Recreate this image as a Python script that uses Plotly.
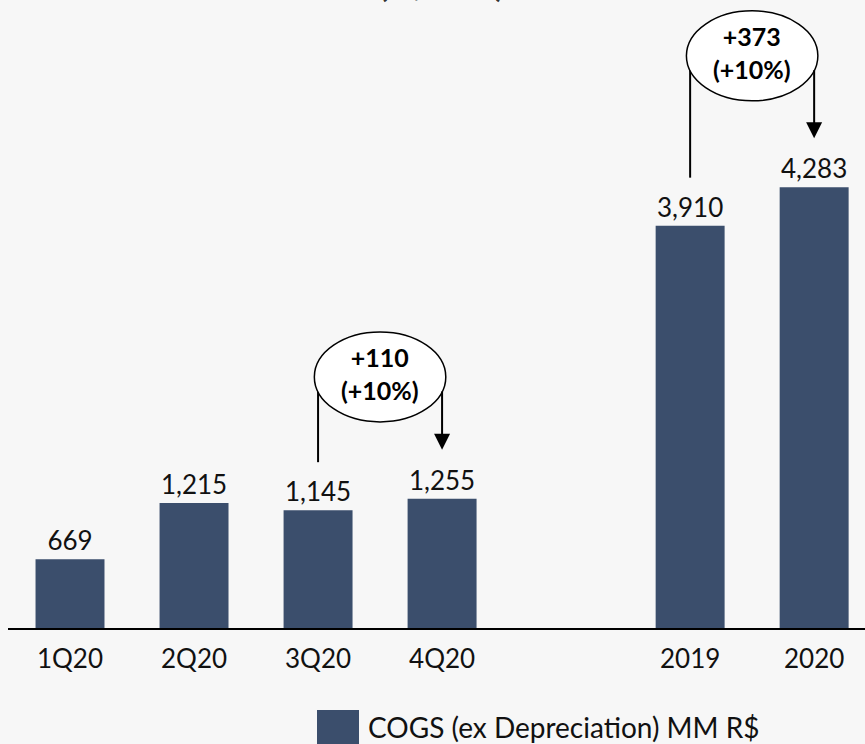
import plotly.graph_objects as go

# ---- data ----
categories = ["1Q20", "2Q20", "3Q20", "4Q20", "2019", "2020"]
x_pos = [0, 1, 2, 3, 5, 6]          # slot 4 left empty as gap
values = [669, 1215, 1145, 1255, 3910, 4283]
series_name = "COGS (ex Depreciation) MM R$"
title_text = "(R$ MM)"

# comparison callouts: (left index, right index, delta text, pct text, ellipse centre value)
callouts = [
    (2, 3, "+110", "(+10%)", 2440),
    (4, 5, "+373", "(+10%)", 5560),
]

BAR_COLOR = "#3B4E6C"
BG = "#f7f7f7"
FONT = "Lato"
TXT = "#111111"

# plot geometry: plot area 8..865 px wide, 0..628 px high
W, H = 865, 744
ML, MR, MT, MB = 8, 0, 0, 116
PW, PH = W - ML - MR, H - MT - MB
YMAX = 6103
X_RANGE = [-0.5, 6.41]
vpp = YMAX / PH  # value per pixel

fig = go.Figure()
fig.add_trace(go.Bar(
    x=x_pos, y=values, name=series_name,
    marker=dict(color=BAR_COLOR, line=dict(width=0)),
    width=0.556,
    text=[f"{v:,}" for v in values],
    textposition="outside",
    textfont=dict(family=FONT, size=26, color=TXT),
    cliponaxis=False,
    showlegend=False,
))

shapes = []
annotations = []
for li, ri, d, p, cy in callouts:
    xl, xr = x_pos[li], x_pos[ri]
    cx = (xl + xr) / 2.0
    half_w = 0.53
    half_h = 45 * vpp
    # left connector line (beneath ellipse)
    shapes.append(dict(type="line", xref="x", yref="y",
                       x0=xl, x1=xl, y0=values[li] + 48 * vpp, y1=cy,
                       line=dict(color="black", width=2), layer="above"))
    # ellipse
    shapes.append(dict(type="circle", xref="x", yref="y",
                       x0=cx - half_w, x1=cx + half_w, y0=cy - half_h, y1=cy + half_h,
                       fillcolor="white", line=dict(color="black", width=1.5), layer="above"))
    # right arrow
    annotations.append(dict(x=xr, y=values[ri] + 49 * vpp, ax=xr, ay=cy - 13 * vpp,
                            xref="x", yref="y", axref="x", ayref="y",
                            text="", showarrow=True, arrowhead=2, arrowsize=1.6,
                            arrowwidth=2, arrowcolor="black", standoff=0))
    annotations.append(dict(x=cx, y=cy, xref="x", yref="y", yshift=3,
                            text=f"<b>{d}</b><br><b>{p}</b>", showarrow=False,
                            font=dict(family=FONT, size=25, color="black"),
                            align="center"))

# cropped title at top
annotations.append(dict(x=(441 - ML) / PW, y=1, xref="paper", yref="paper",
                        xanchor="center", yanchor="bottom", yshift=-6,
                        text=f"<b>{title_text}</b>", showarrow=False,
                        font=dict(family=FONT, size=32, color="#333333")))

# legend (drawn as swatch + text)
shapes.append(dict(type="rect", xref="paper", yref="paper",
                   x0=(317 - ML) / PW, x1=(359 - ML) / PW,
                   y0=(PH - 750) / PH, y1=(PH - 710) / PH,
                   fillcolor=BAR_COLOR, line=dict(width=0)))
annotations.append(dict(x=(366 - ML) / PW, y=(PH - 727) / PH, xref="paper", yref="paper",
                        xanchor="left", yanchor="middle", text=series_name, showarrow=False,
                        font=dict(family=FONT, size=28, color=TXT)))

fig.update_layout(
    width=W, height=H,
    margin=dict(l=ML, r=MR, t=MT, b=MB, pad=0),
    paper_bgcolor=BG, plot_bgcolor=BG,
    shapes=shapes, annotations=annotations,
    xaxis=dict(range=X_RANGE, tickmode="array", tickvals=x_pos, ticktext=categories,
               showgrid=False, zeroline=False, showline=True, linecolor="black",
               linewidth=2, ticks="", ticklabelstandoff=7,
               tickfont=dict(family=FONT, size=26, color=TXT)),
    yaxis=dict(range=[0, YMAX], visible=False, showgrid=False, zeroline=False),
    showlegend=False,
)

fig.write_html("out.html")
